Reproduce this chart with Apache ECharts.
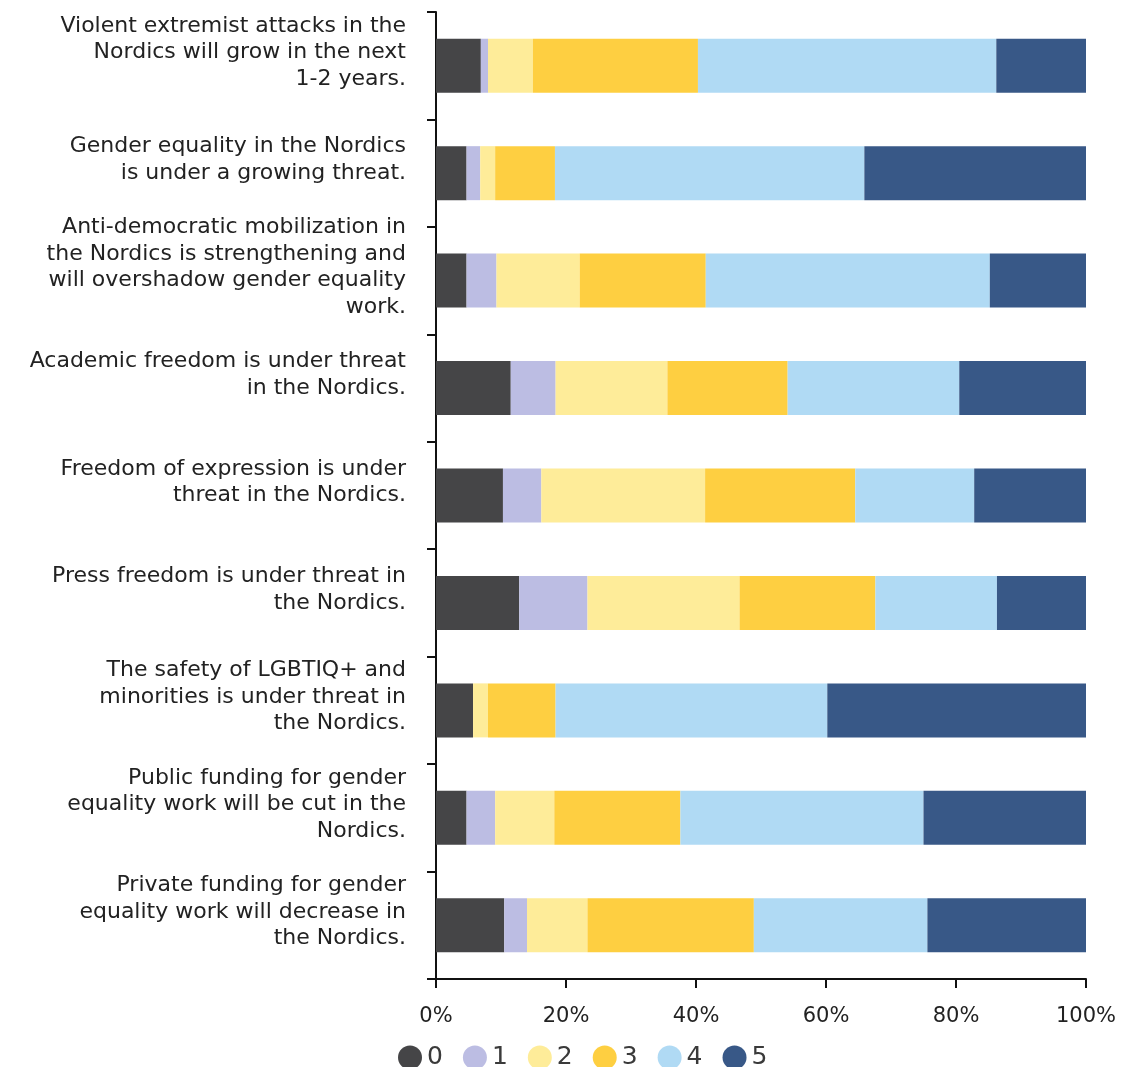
<!DOCTYPE html>
<html>
<head>
<meta charset="utf-8">
<script src="https://cdn.jsdelivr.net/npm/echarts@6/dist/echarts.min.js"></script>
<style>
  html, body { margin: 0; padding: 0; background: #fff; }
  #chart { width: 1124px; height: 1067px; }
</style>
</head>
<body>
<div id="chart"></div>
<script>
// statements, top to bottom
const categories = [
  'Violent extremist attacks in the\nNordics will grow in the next\n1-2 years.',
  'Gender equality in the Nordics\nis under a growing threat.',
  'Anti-democratic mobilization in\nthe Nordics is strengthening and\nwill overshadow gender equality\nwork.',
  'Academic freedom is under threat\nin the Nordics.',
  'Freedom of expression is under\nthreat in the Nordics.',
  'Press freedom is under threat in\nthe Nordics.',
  'The safety of LGBTIQ+ and\nminorities is under threat in\nthe Nordics.',
  'Public funding for gender\nequality work will be cut in the\nNordics.',
  'Private funding for gender\nequality work will decrease in\nthe Nordics.'
]

const levels = ['0', '1', '2', '3', '4', '5']
const colors = ['#454547', '#bcbde3', '#feec99', '#fecf41', '#b0daf4', '#385887']

// share of answers (%) per level
const level0 = [6.9, 4.7, 4.7, 11.5, 10.3, 12.8, 5.7, 4.7, 10.5]
const level1 = [1.1, 2.1, 4.6, 6.9, 5.9, 10.5, 0, 4.4, 3.5]
const level2 = [6.9, 2.3, 12.8, 17.2, 25.2, 23.4, 2.3, 9.1, 9.3]
const level3 = [25.4, 9.2, 19.4, 18.5, 23.1, 20.9, 10.4, 19.4, 25.6]
const level4 = [45.9, 47.6, 43.7, 26.4, 18.3, 18.7, 41.8, 37.4, 26.7]
const level5 = [13.8, 34.1, 14.8, 19.5, 17.2, 13.7, 39.8, 25.0, 24.4]

const values = [level0, level1, level2, level3, level4, level5]

const font = '"DejaVu Sans", sans-serif'

const chart = echarts.init(document.getElementById('chart'))

const option = {
  animation: false,
  grid: {
    left: 436,
    right: 38,
    top: 12,
    bottom: 88
  },
  legend: {
    left: 393,
    top: 1040,
    icon: 'circle',
    itemWidth: 24,
    itemHeight: 24,
    itemGap: 20,
    textStyle: {
      color: '#3a3a3a',
      fontSize: 25,
      fontFamily: font
    },
    data: levels
  },
  xAxis: {
    type: 'value',
    min: 0,
    max: 100,
    interval: 20,
    axisLine: {
      show: true,
      lineStyle: { color: '#111', width: 2 }
    },
    axisTick: {
      show: true,
      length: 9,
      lineStyle: { color: '#111', width: 2 }
    },
    splitLine: { show: false },
    axisLabel: {
      margin: 27,
      color: '#222',
      fontSize: 21,
      fontFamily: font,
      formatter: '{value}%'
    }
  },
  yAxis: {
    type: 'category',
    inverse: true,
    data: categories,
    axisLine: {
      show: true,
      lineStyle: { color: '#111', width: 2 }
    },
    axisTick: {
      show: true,
      length: 9,
      lineStyle: { color: '#111', width: 2 }
    },
    axisLabel: {
      margin: 30,
      color: '#222',
      fontSize: 22,
      lineHeight: 26.5,
      fontFamily: font,
      align: 'right',
      // labels sit half a line above the bar centre
      formatter: function(v) {
        return v + '\n'
      }
    }
  },
  series: levels.map(function(name, i) {
    return {
      name: name,
      type: 'bar',
      stack: 'total',
      barWidth: 54,
      itemStyle: { color: colors[i] },
      data: values[i]
    }
  })
}

chart.setOption(option)
</script>
</body>
</html>
